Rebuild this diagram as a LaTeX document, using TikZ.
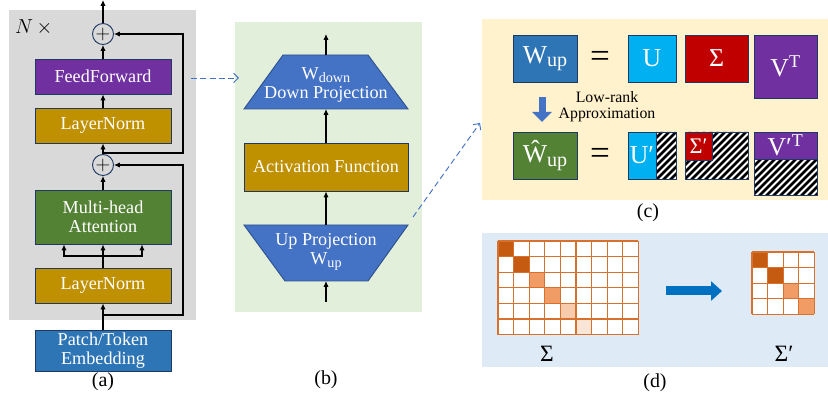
\documentclass[tikz,border=0pt]{standalone}
\usepackage{fontspec}
\setmainfont{Liberation Serif}
\usetikzlibrary{arrows.meta,calc}

\definecolor{panelgray}{HTML}{D9D9D9}
\definecolor{panelgreen}{HTML}{E2EFDA}
\definecolor{panelyellow}{HTML}{FFF2CC}
\definecolor{panelblue}{HTML}{DEEBF7}
\definecolor{ffpurple}{HTML}{7030A0}
\definecolor{lngold}{HTML}{BF9000}
\definecolor{attgreen}{HTML}{548235}
\definecolor{embblue}{HTML}{2E75B6}
\definecolor{projblue}{HTML}{4472C4}
\definecolor{projedge}{HTML}{2F528F}
\definecolor{edgenavy}{HTML}{203864}
\definecolor{ucyan}{HTML}{00B0F0}
\definecolor{sred}{HTML}{C00000}
\definecolor{dashblue}{HTML}{4472C4}
\definecolor{arrblue}{HTML}{0070C0}
\definecolor{cdark}{HTML}{C55A11}
\definecolor{cmid}{HTML}{F19C65}
\definecolor{clight}{HTML}{F8CBAD}
\definecolor{cpale}{HTML}{FBE5D6}
\definecolor{gridorange}{HTML}{D9712E}

\newcommand{\lowsub}[1]{\raisebox{-0.3ex}{\scalebox{0.78}{#1}}}

\begin{document}
\begin{tikzpicture}[x=0.03cm, y=-0.03cm,
    blk/.style={draw=edgenavy, line width=0.8pt, text=white, minimum width=4.08cm,
      font=\fontsize{15.5}{16}\selectfont, align=center, inner sep=1pt},
    arr/.style={-{Latex[length=5pt,width=4.5pt]}, line width=0.9pt},
    plus/.style={circle, draw=edgenavy, line width=0.8pt, minimum size=0.63cm, inner sep=0pt,
      font=\fontsize{17}{17}\selectfont},
    trap/.style={fill=projblue, draw=projedge, line width=0.8pt},
    zoomarr/.style={draw=dashblue, line width=0.8pt, dash pattern=on 5pt off 3pt,
      -{Straight Barb[length=4pt,width=8pt]}},
    mat/.style={draw=edgenavy, line width=0.7pt, text=white, inner sep=0pt,
      font=\fontsize{22}{22}\selectfont},
    eqsign/.style={font=\fontsize{30}{30}\selectfont},
    fatarr/.style={line width=0.21cm, draw=projblue, -{Triangle[length=0.3cm,width=0.57cm]}},
    gridline/.style={draw=gridorange, line width=0.9pt},
    lbl/.style={font=\fontsize{17}{18}\selectfont}]
  \useasboundingbox (0,0) rectangle (828,400);
  %% (a) transformer block
  \fill[panelgray] (9,10) rectangle (196,320);
  \node[anchor=west, font=\fontsize{16}{16}\selectfont] (nx) at (11,27) {$N\,\times$};
  \node[plus] (add1) at (103,34) {$+$};
  \node[blk, fill=ffpurple, minimum height=1.05cm] (ff) at (103,76.5) {FeedForward};
  \node[blk, fill=lngold, minimum height=1.05cm] (ln1) at (103,125.5) {LayerNorm};
  \node[plus] (add2) at (103,165) {$+$};
  \node[blk, fill=attgreen, minimum height=1.62cm] (mha) at (103,217) {Multi-head\\Attention};
  \node[blk, fill=lngold, minimum height=1.05cm] (ln2) at (103,285.5) {LayerNorm};
  \node[blk, fill=embblue, minimum height=1.23cm] (emb) at (103,350.5) {Patch/Token\\Embedding};
  \coordinate (out) at (103,0);
  \coordinate (skip1) at (103,153);
  \coordinate (skip2) at (103,315);
  \coordinate (split) at (103,256);
  \draw[arr] (add1) -- (out);
  \draw[arr] (ff) -- (add1);
  \draw[arr] (ln1) -- (ff);
  \draw[arr] (add2) -- (ln1);
  \draw[arr] (mha) -- (add2);
  \draw[arr] (emb) -- (ln2);
  \draw[arr] (skip1) -- ++(80,0) |- (add1);
  \draw[arr] (skip2) -- ++(80,0) |- (add2);
  \draw[line width=0.9pt] (ln2) -- (split);
  \draw[arr] (split) -- (mha);
  \draw[arr] (split) -| ($(mha.south)+(-39,0)$);
  \draw[arr] (split) -| ($(mha.south)+(39,0)$);
  \node[lbl] (la) at (103,382) {(a)};
  %% (b) feed-forward
  \fill[panelgreen] (235,22) rectangle (422,312);
  \draw[trap] (244,109) -- (283,55) -- (368,55) -- (408,109) -- cycle;
  \node[blk, draw=none, minimum width=0pt] (down) at (326,85) {W\lowsub{down}\\Down Projection};
  \node[blk, fill=lngold, minimum width=4.92cm, minimum height=1.44cm] (act) at (326,167) {Activation Function};
  \draw[trap] (244,225) -- (408,225) -- (368,281) -- (285,281) -- cycle;
  \node[blk, draw=none, minimum width=0pt] (up) at (326,252) {Up Projection\\W\lowsub{up}};
  \coordinate (downtop) at (326,55);
  \coordinate (downbot) at (326,109);
  \coordinate (uptop) at (326,225);
  \coordinate (upbot) at (326,281);
  \coordinate (bin) at (326,302);
  \coordinate (bout) at (326,34);
  \draw[arr] (bin) -- (upbot);
  \draw[arr] (uptop) -- (act);
  \draw[arr] (act) -- (downbot);
  \draw[arr] (downtop) -- (bout);
  \node[lbl] (lb) at (326,380) {(b)};
  %% zoom arrows
  \coordinate (zoomA) at (191,78);
  \coordinate (zoomB) at (239,78);
  \coordinate (zoomC) at (413,217);
  \coordinate (zoomD) at (480,123);
  \draw[zoomarr] (zoomA) -- (zoomB);
  \draw[zoomarr] (zoomC) -- (zoomD);
  %% (c) low-rank approximation
  \fill[panelyellow] (482,19) rectangle (828,200);
  \node[mat, fill=embblue, minimum width=1.92cm, minimum height=1.41cm] (wup) at (545,58.5) {W\lowsub{up}};
  \node[eqsign] (eq1) at (600,59) {=};
  \node[mat, fill=ucyan, minimum width=1.44cm, minimum height=1.41cm] (u) at (652,58.5) {U};
  \node[mat, fill=sred, minimum width=1.89cm, minimum height=1.41cm] (s) at (716.5,58.5) {Σ};
  \node[mat, fill=ffpurple, minimum width=1.89cm, minimum height=1.89cm] (vt) at (785.5,66.5) {V\textsuperscript{T}};
  \coordinate (lrA) at (542,97);
  \coordinate (lrB) at (542,122);
  \draw[fatarr] (lrA) -- (lrB);
  \node[align=center, font=\fontsize{13.5}{14}\selectfont] (lr) at (607,106.5) {Low-rank\\Approximation};
  \begin{scope}
    \clip (656,132) rectangle (676,179) (685,132) rectangle (748,179) (754,159) rectangle (817,195);
    \fill[white] (650,125) rectangle (820,200);
    \foreach \k in {0,...,36}
      \draw[line width=2.4pt] (580+\k*7,200) -- ++(80,-80);
  \end{scope}
  \node[mat, fill=attgreen, minimum width=1.92cm, minimum height=1.41cm] (what) at (545,155.5) {\^{W}\lowsub{up}};
  \node[eqsign] (eq2) at (600,156) {=};
  \node[mat, fill=ucyan, minimum width=0.84cm, minimum height=1.41cm] (u2) at (642,155.5) {U′};
  \node[mat, minimum width=1.44cm, minimum height=1.41cm] (u2box) at (652,155.5) {};
  \node[mat, fill=sred, minimum width=0.81cm, minimum height=0.84cm, font=\fontsize{19}{19}\selectfont] (s2) at (698.5,146) {Σ′};
  \node[mat, minimum width=1.89cm, minimum height=1.41cm] (s2box) at (716.5,155.5) {};
  \node[mat, fill=ffpurple, minimum width=1.89cm, minimum height=0.81cm] (vt2) at (785.5,145.5) {V′\textsuperscript{T}};
  \node[mat, minimum width=1.89cm, minimum height=1.89cm] (vt2box) at (785.5,163.5) {};
  \node[lbl] (lc) at (648,213) {(c)};
  %% (d) truncated singular values
  \fill[panelblue] (482,233) rectangle (828,367);
  \fill[white] (498,241) rectangle (638.4,334.6);
  \foreach \i/\c in {0/cdark,1/cdark,2/cmid,3/cmid,4/clight,5/cpale}
    \fill[\c] (498+\i*15.6,241+\i*15.6) rectangle ++(15.6,15.6);
  \foreach \k in {0,...,9}
    \draw[gridline] (498+\k*15.6,241) -- ++(0,93.6);
  \foreach \k in {0,...,6}
    \draw[gridline] (498,241+\k*15.6) -- ++(140.4,0);
  \fill[white] (752,252) rectangle (814.4,314.4);
  \foreach \i/\c in {0/cdark,1/cdark,2/cmid,3/cmid}
    \fill[\c] (752+\i*15.6,252+\i*15.6) rectangle ++(15.6,15.6);
  \foreach \k in {0,...,4}{
    \draw[gridline] (752+\k*15.6,252) -- ++(0,62.4);
    \draw[gridline] (752,252+\k*15.6) -- ++(62.4,0);
  }
  \node[font=\fontsize{20}{20}\selectfont] (sig) at (547,354) {Σ};
  \node[font=\fontsize{20}{20}\selectfont] (sig2) at (784,354) {Σ′};
  \coordinate (shrinkA) at (666,291);
  \coordinate (shrinkB) at (722,291);
  \draw[line width=0.27cm, draw=arrblue, -{Triangle[length=0.33cm,width=0.57cm]}] (shrinkA) -- (shrinkB);
  \node[lbl] (ld) at (655,383) {(d)};
\end{tikzpicture}
\end{document}
